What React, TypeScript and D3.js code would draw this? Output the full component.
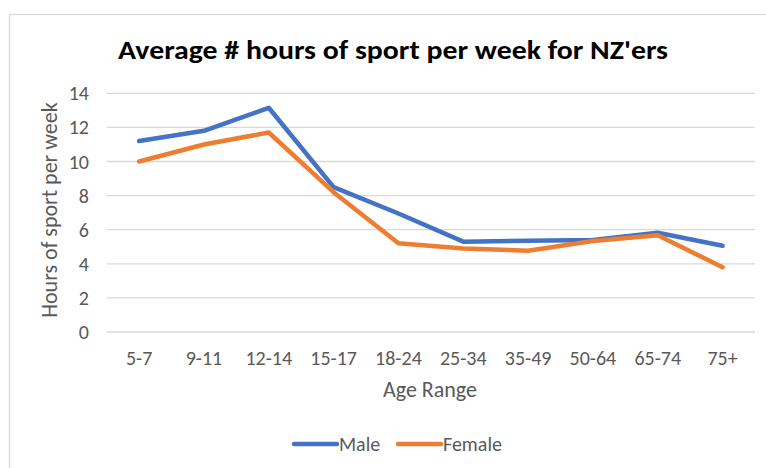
import React from "react";
import * as d3 from "d3";

const categories = ["5-7", "9-11", "12-14", "15-17", "18-24", "25-34", "35-49", "50-64", "65-74", "75+"];
const maleValues = [11.2, 11.8, 13.15, 8.5, 6.95, 5.3, 5.35, 5.4, 5.82, 5.06];
const femaleValues = [10.0, 11.0, 11.7, 8.2, 5.2, 4.9, 4.77, 5.34, 5.67, 3.8];
const yTicks = [0, 2, 4, 6, 8, 10, 12, 14];
const seriesNames = ["Male", "Female"];
const seriesColors = ["#4472C4", "#ED7D31"];

const W = 766;
const H = 468;
const FONT = "Carlito, 'Open Sans', sans-serif";

export default function App() {
  const x = d3.scaleBand<string>().domain(categories).range([106.7, 755]).padding(0);
  const y = d3.scaleLinear().domain([0, 14]).range([332, 93.3]);
  const cx = (c: string) => (x(c) as number) + x.bandwidth() / 2;
  const line = d3
    .line<number>()
    .x((_, i) => cx(categories[i]))
    .y((v) => y(v));
  const series = [maleValues, femaleValues];

  return (
    <svg
      width={W}
      height={H}
      style={{ position: "absolute", left: 0, top: 0, background: "#fff" }}
    >
      <rect x={0} y={0} width={W} height={H} fill="#fff" />
      <rect x={9.5} y={14.5} width={W} height={H} fill="#fff" stroke="#d9d9d9" strokeWidth={1.3} />
      <text
        x={393}
        y={59}
        textAnchor="middle"
        fontFamily={FONT}
        fontWeight="bold"
        fontSize={26}
        fill="#000"
        textLength={550}
        lengthAdjust="spacingAndGlyphs"
      >
        Average # hours of sport per week for NZ'ers
      </text>
      {yTicks.map((t) => (
        <g key={t}>
          <line x1={106.7} x2={755} y1={y(t)} y2={y(t)} stroke="#d9d9d9" strokeWidth={1.3} />
          <text
            x={89}
            y={y(t) + 7}
            textAnchor="end"
            fontFamily={FONT}
            fontSize={20}
            fill="#595959"
          >
            {t}
          </text>
        </g>
      ))}
      {categories.map((c) => (
        <text
          key={c}
          x={cx(c)}
          y={365}
          textAnchor="middle"
          fontFamily={FONT}
          fontSize={20}
          fill="#595959"
        >
          {c}
        </text>
      ))}
      <text
        x={430}
        y={397}
        textAnchor="middle"
        fontFamily={FONT}
        fontSize={22}
        fill="#595959"
      >
        Age Range
      </text>
      <text
        transform={`translate(57,210) rotate(-90)`}
        textAnchor="middle"
        fontFamily={FONT}
        fontSize={22}
        fill="#595959"
      >
        Hours of sport per week
      </text>
      {series.map((s, i) => (
        <path
          key={i}
          d={line(s) || ""}
          fill="none"
          stroke={seriesColors[i]}
          strokeWidth={4.5}
          strokeLinejoin="round"
          strokeLinecap="round"
        />
      ))}
      {seriesNames.map((n, i) => {
        const lx = i === 0 ? 294 : 398;
        return (
          <g key={n}>
            <line x1={lx} x2={lx + 43} y1={444} y2={444} stroke={seriesColors[i]} strokeWidth={4.5} strokeLinecap="round" />
            <text x={lx + 45} y={451} fontFamily={FONT} fontSize={20} fill="#595959">
              {n}
            </text>
          </g>
        );
      })}
    </svg>
  );
}
